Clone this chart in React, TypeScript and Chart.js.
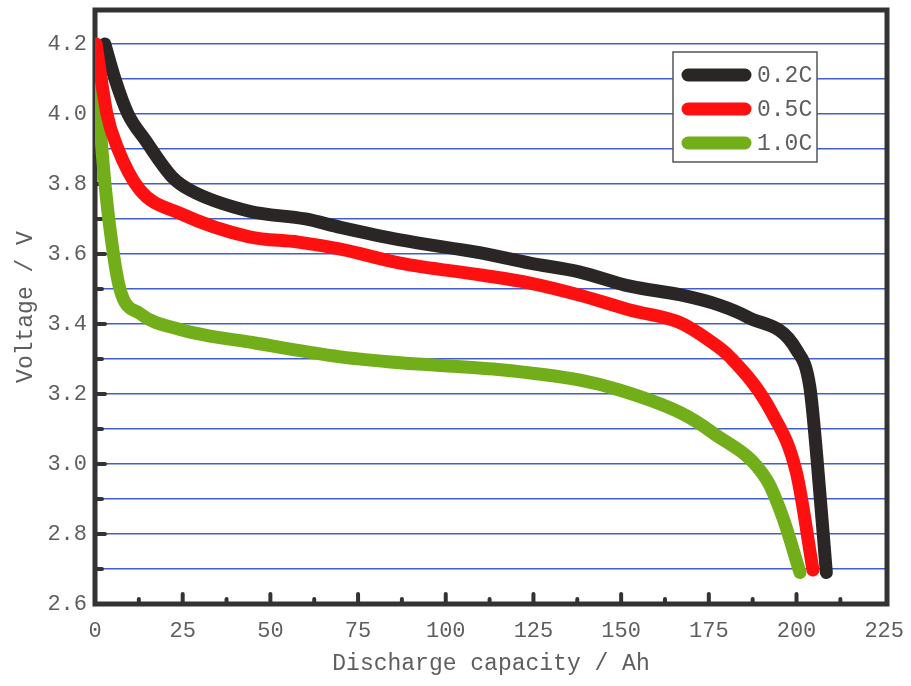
import React, { useEffect, useRef } from "react";
import { Chart, registerables } from "chart.js";

Chart.register(...registerables);

// ---- data ----
const seriesLabels = ["0.2C", "0.5C", "1.0C"];

const cap02 = [2.8, 5.7, 9.4, 14.3, 22, 27, 44, 60, 70, 87, 110, 124, 138, 152.5, 167, 178, 186, 200, 203.8, 205.8, 208.5];
const volt02 = [4.2, 4.1, 4.0, 3.926, 3.82, 3.783, 3.722, 3.7, 3.676, 3.64, 3.603, 3.574, 3.549, 3.508, 3.483, 3.454, 3.42, 3.326, 3.22, 3.02, 2.69];

const cap05 = [0.3, 3.4, 6.3, 12.8, 24, 44, 58, 70, 87, 110, 124, 138, 152.5, 167, 175, 181, 193, 200, 204.7];
const volt05 = [4.2, 4.0, 3.906, 3.783, 3.717, 3.649, 3.634, 3.614, 3.574, 3.54, 3.517, 3.483, 3.44, 3.403, 3.354, 3.306, 3.146, 2.974, 2.697];

const cap10 = [0, 2.3, 4.3, 7.1, 12.8, 24, 46, 70, 87, 115, 138, 150, 167, 176, 191.5, 196, 201];
const volt10 = [4.17, 3.86, 3.67, 3.5, 3.43, 3.385, 3.345, 3.306, 3.289, 3.27, 3.24, 3.21, 3.146, 3.09, 2.955, 2.85, 2.69];

const xTickValues = [0, 25, 50, 75, 100, 125, 150, 175, 200, 225];
const xInnerTicks = [12.5, 25, 37.5, 50, 62.5, 75, 87.5, 100, 112.5, 125, 137.5, 150, 162.5, 175, 187.5, 200, 212.5];
const yGridValues = [2.6, 2.7, 2.8, 2.9, 3.0, 3.1, 3.2, 3.3, 3.4, 3.5, 3.6, 3.7, 3.8, 3.9, 4.0, 4.1, 4.2];
const yLabelValues = [2.6, 2.8, 3.0, 3.2, 3.4, 3.6, 3.8, 4.0, 4.2];

const xTitle = "Discharge capacity / Ah";
const yTitle = "Voltage / V";

const colors = ["#2b2626", "#ff1010", "#72ae1a"];

const FONT = "'Liberation Mono', 'DejaVu Sans Mono', monospace";
const TEXT = "#5e5e5e";

const toPts = (xs: number[], ys: number[]) => xs.map((x, i) => ({ x, y: ys[i] }));

const framePlugin = {
  id: "frame",
  beforeDatasetsDraw(chart: any) {
    const { ctx, chartArea: a, scales } = chart;
    const xs = scales.x;
    const ys = scales.y;
    ctx.save();
    ctx.strokeStyle = "#333333";
    ctx.lineCap = "round";
    ctx.lineWidth = 4;
    yGridValues.forEach((v) => {
      if (v <= 2.6) return;
      const py = ys.getPixelForValue(v);
      const major = yLabelValues.some((l) => Math.abs(l - v) < 1e-6);
      ctx.beginPath();
      ctx.moveTo(a.left + 2, py);
      ctx.lineTo(a.left + (major ? 10 : 7), py);
      ctx.stroke();
    });
    xInnerTicks.forEach((v) => {
      const px = xs.getPixelForValue(v);
      const major = xTickValues.includes(v);
      ctx.beginPath();
      ctx.moveTo(px, a.bottom - 2);
      ctx.lineTo(px, a.bottom - (major ? 10 : 5));
      ctx.stroke();
    });
    ctx.lineCap = "butt";
    ctx.lineWidth = 5;
    ctx.strokeRect(a.left, a.top, a.right - a.left, a.bottom - a.top);
    ctx.restore();
  },
  afterDraw(chart: any) {
    const { ctx, chartArea: a } = chart;
    const bx = a.right - 214;
    const by = a.top + 42;
    const bw = 144;
    const bh = 110;
    ctx.save();
    ctx.fillStyle = "#ffffff";
    ctx.fillRect(bx, by, bw, bh);
    ctx.strokeStyle = "#555555";
    ctx.lineWidth = 1.5;
    ctx.strokeRect(bx, by, bw, bh);
    ctx.font = `23px ${FONT}`;
    ctx.textBaseline = "middle";
    ctx.textAlign = "left";
    chart.data.datasets.forEach((ds: any, i: number) => {
      const cy = by + 23 + i * 34;
      ctx.strokeStyle = ds.borderColor;
      ctx.lineWidth = 13;
      ctx.lineCap = "round";
      ctx.beginPath();
      ctx.moveTo(bx + 15, cy);
      ctx.lineTo(bx + 72, cy);
      ctx.stroke();
      ctx.fillStyle = TEXT;
      ctx.fillText(ds.label, bx + 84, cy + 1);
    });
    ctx.restore();
  },
};

export default function App() {
  const ref = useRef<HTMLCanvasElement>(null);
  useEffect(() => {
    if (!ref.current) return;
    const mk = (i: number, xs: number[], ys: number[], order: number) => ({
      label: seriesLabels[i],
      data: toPts(xs, ys),
      borderColor: colors[i],
      backgroundColor: colors[i],
      borderWidth: 13,
      pointRadius: 0,
      showLine: true,
      fill: false,
      cubicInterpolationMode: "monotone" as const,
      borderCapStyle: "round" as const,
      borderJoinStyle: "round" as const,
      order,
    });
    const chart = new Chart(ref.current, {
      type: "scatter",
      data: {
        datasets: [mk(0, cap02, volt02, 1), mk(1, cap05, volt05, 0), mk(2, cap10, volt10, 2)],
      },
      plugins: [framePlugin],
      options: {
        animation: false,
        responsive: true,
        maintainAspectRatio: false,
        layout: { padding: { left: 0, top: 10, right: 24, bottom: 0 } },
        plugins: { legend: { display: false }, tooltip: { enabled: false } },
        scales: {
          x: {
            type: "linear",
            min: 0,
            max: 225.8,
            afterBuildTicks: (s: any) => {
              s.ticks = xTickValues.map((v) => ({ value: v }));
            },
            afterFit: (s: any) => {
              s.height = 82;
              s.paddingLeft = 0;
              s.paddingRight = 0;
            },
            grid: { display: false, drawTicks: false },
            border: { display: false },
            ticks: {
              color: TEXT,
              font: { family: FONT, size: 22 },
              padding: 14,
              maxRotation: 0,
              autoSkip: false,
              callback: (v: any) => String(v),
            },
            title: {
              display: true,
              text: xTitle,
              color: TEXT,
              font: { family: FONT, size: 23 },
              padding: { top: 0, bottom: 8 },
            },
          },
          y: {
            type: "linear",
            min: 2.6,
            max: 4.297,
            afterBuildTicks: (s: any) => {
              s.ticks = yGridValues.map((v) => ({ value: v }));
            },
            afterFit: (s: any) => {
              s.width = 95;
              s.paddingTop = 0;
              s.paddingBottom = 0;
            },
            grid: {
              drawTicks: false,
              color: "rgba(45,75,200,0.9)",
              lineWidth: 1.5,
            },
            border: { display: false },
            ticks: {
              color: TEXT,
              font: { family: FONT, size: 22 },
              padding: 8,
              autoSkip: false,
              callback: (v: any) => {
                const n = Number(v);
                return yLabelValues.some((l) => Math.abs(l - n) < 1e-6) ? n.toFixed(1) : "";
              },
            },
            title: {
              display: true,
              text: yTitle,
              color: TEXT,
              font: { family: FONT, size: 23 },
              padding: { top: 12, bottom: 0 },
            },
          },
        },
      },
    });
    return () => chart.destroy();
  }, []);
  return (
    <div style={{ position: "absolute", left: 0, top: 0, width: 911, height: 686, background: "#fff" }}>
      <canvas ref={ref} />
    </div>
  );
}
